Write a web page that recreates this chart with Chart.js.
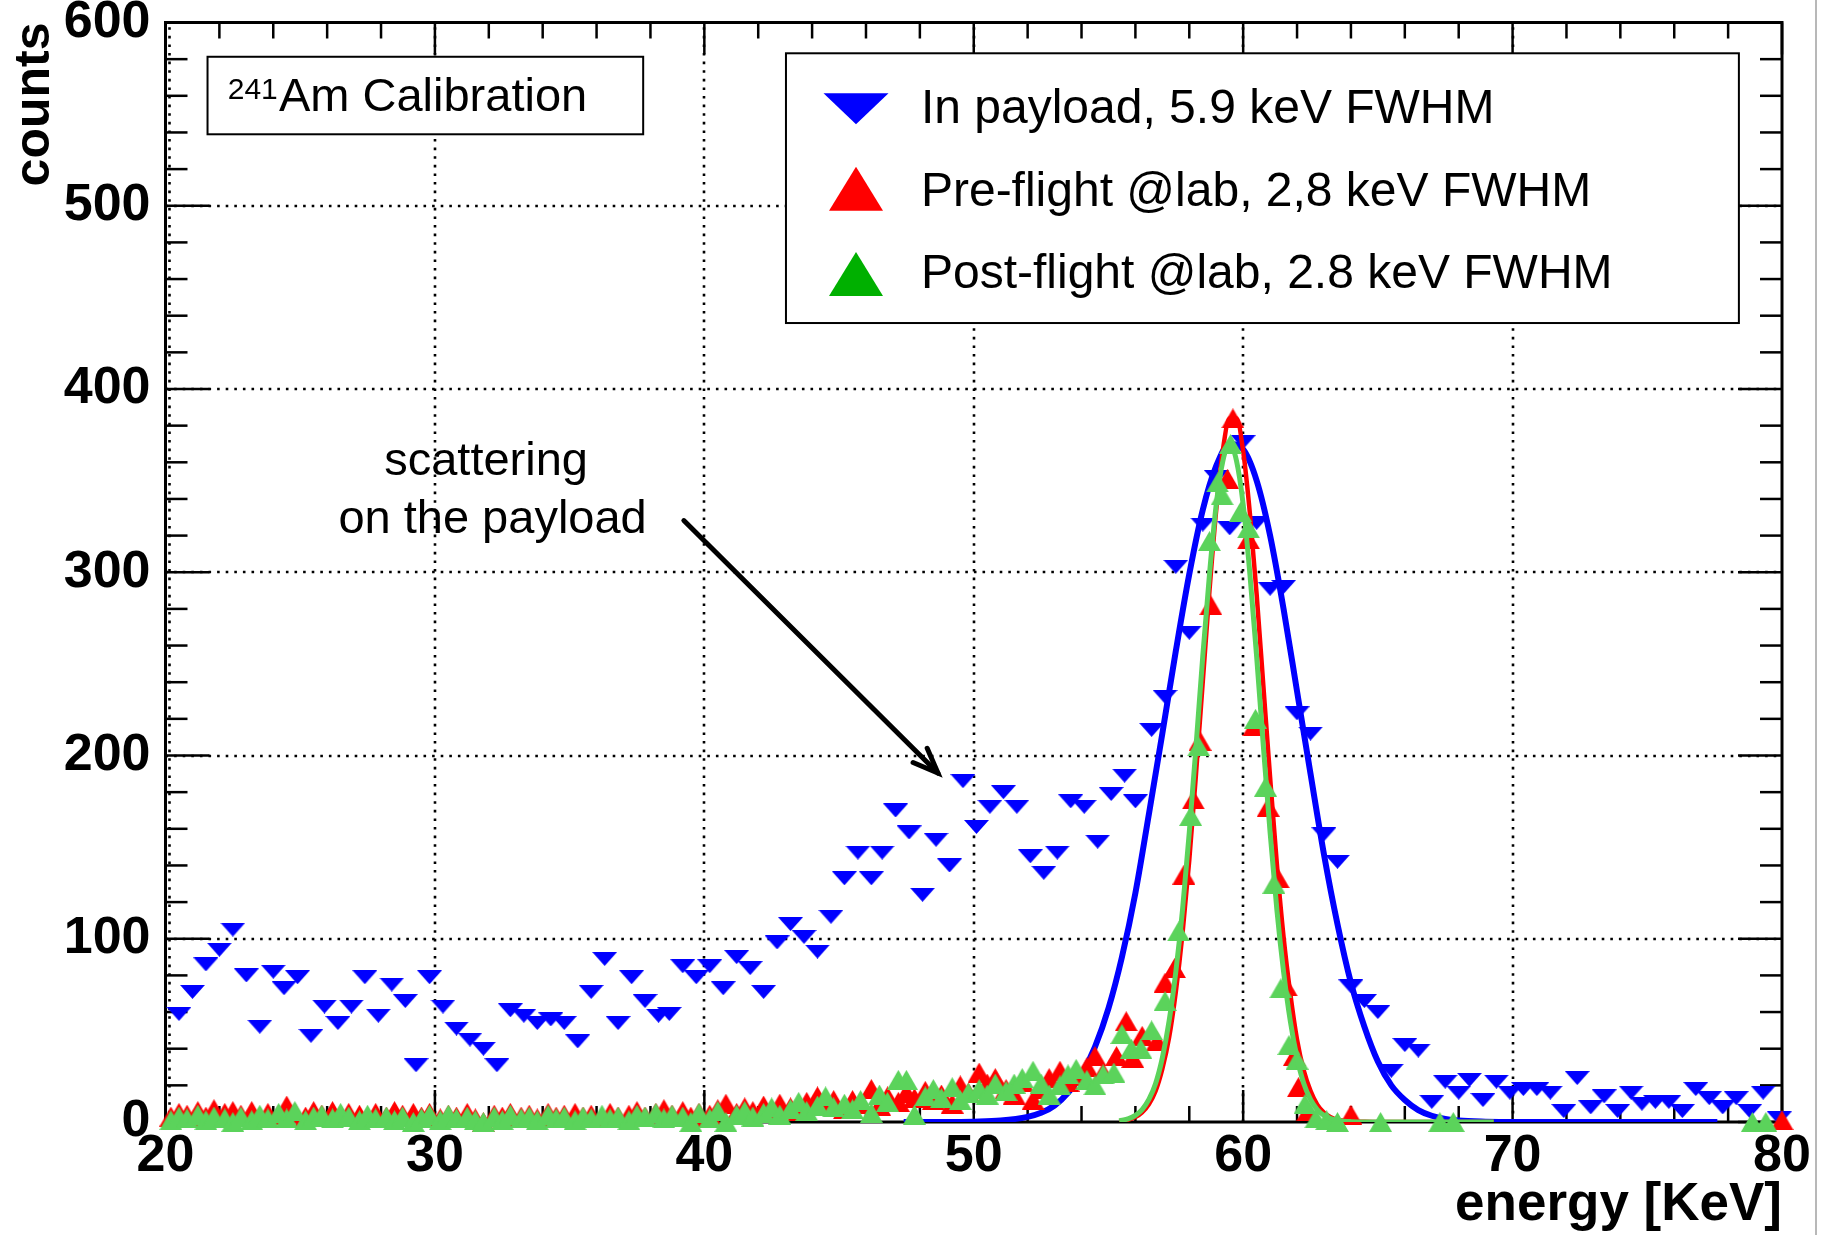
<!DOCTYPE html>
<html><head><meta charset="utf-8">
<script src="https://cdn.jsdelivr.net/npm/chart.js@4.4.1/dist/chart.umd.min.js"></script>
<style>html,body{margin:0;padding:0;background:#fff;overflow:hidden}canvas{display:block}</style>
</head><body>
<canvas id="c" width="1824" height="1235"></canvas>
<script>
// ---------- data ----------
const xTicks = [20, 30, 40, 50, 60, 70, 80];
const yTicks = [0, 100, 200, 300, 400, 500, 600];
const xTitle = 'energy [KeV]';
const yTitle = 'counts';
const seriesNames = ['In payload, 5.9 keV FWHM', 'Pre-flight @lab, 2,8 keV FWHM', 'Post-flight @lab, 2.8 keV FWHM'];

// In payload (blue, downward triangles)
const blueE = [20.5,21.0,21.5,22.0,22.5,23.0,23.5,24.0,24.4,24.9, 25.4,25.9,26.4,26.9,27.4,27.9,28.4,28.9,29.3,29.8,
  30.3,30.8,31.3,31.8,32.3,32.8,33.3,33.8,34.3,34.8, 35.3,35.8,36.3,36.8,37.3,37.8,38.3,38.7,39.2,39.7,
  40.2,40.7,41.2,41.7,42.2,42.7,43.2,43.7,44.2,44.7, 45.2,45.7,46.2,46.6,47.1,47.6,48.1,48.6,49.1,49.6,
  50.1,50.6,51.1,51.6,52.1,52.6,53.1,53.6,54.1,54.6, 55.1,55.6,56.0,56.6,57.1,57.5,58.0,58.5,59.0,59.5,
  60.0,60.5,61.0,61.5,62.0,62.5,63.0,63.5,64.0,64.5, 65.0,65.5,66.0,66.5,67.0,67.5,68.0,68.4,68.9,69.4,
  69.9,70.4,70.9,71.4,71.9,72.4,72.9,73.4,73.9,74.4, 74.8,75.3,75.8,76.3,76.8,77.3,77.8,78.3,78.8,79.3, 79.9];
const blueC = [59,71,86,94,105,80,52,82,73,79, 47,63,54,63,79,58,75,66,31,79,
  63,51,45,40,31,61,58,54,56,54, 44,71,89,54,79,66,58,59,85,79,
  85,73,90,84,71,98,108,101,93,112, 133,147,133,147,170,158,124,154,140,186,
  161,172,180,172,145,136,147,175,172,153, 179,189,175,214,232,303,267,326,352,324,
  371,327,291,292,223,212,157,142,74,66, 60,28,42,39,11,22,16,23,12,22,
  16,18,18,16,6,24,8,14,6,16, 10,11,11,6,18,13,8,13,6,16, 2];

// lab measurements: low-energy bins shared by pre- and post-flight
const labBaseE = [20.2,20.5,20.8,21.2,21.5,21.8,22.2,22.5,22.8,23.2,23.5,23.8,24.2,24.5,24.8,25.2,25.5,25.8,26.2,26.5,26.8,27.2,27.5,27.8,28.2,28.5,28.8,29.2,29.5,29.8,
  30.2,30.5,30.8,31.2,31.5,31.8,32.2,32.5,32.8,33.2,33.5,33.8,34.2,34.5,34.8,35.2,35.5,35.8,36.2,36.5,36.8,37.2,37.5,37.8,38.2,38.5,38.8,39.2,39.5,39.8,
  40.2,40.5,40.8,41.2,41.5,41.8,42.2,42.5,42.8,43.2,43.5,43.8,44.2,44.5,44.8,45.2,45.5,45.8,46.2,46.5,46.8,47.2,47.5,47.8,48.2,48.5,48.8,49.2,49.5,49.8,
  50.2,50.5,50.8,51.2,51.5,51.8,52.2,52.5,52.8,53.2,53.5,53.8,54.2,54.5,54.8];

// Pre-flight (red)
const redBaseC = [3,5,4,6,3,7,5,6,4,6, 3,5,4,9,5,3,6,4,6,3, 5,4,2,5,3,6,4,5,3,5,
  2,4,3,5,2,0,4,3,5,3, 4,2,5,3,4,5,3,4,2,5, 3,4,6,3,5,7,4,6,3,5,
  4,7,10,5,8,6,9,7,10,8, 6,11,14,9,12,7,12,10,18,9, 14,11,16,13,17,12,15,10,20,16,
  27,21,24,18,15,22,12,18,24,28, 22,25,30,36,27];
const redPeakE = [55.3,55.66,55.9,56.25,56.8,57.1,57.45,57.8,58.15,58.4,58.8,59.42,59.62,60.2,60.4,60.93,61.3,61.6,61.9,62.05,62.4,64.0,80.0];
const redPeakC = [36,55,35,47,44,76,84,135,176,208,282,351,384,318,216,172,133,74,36,19,6,4,1];

// Post-flight (green)
const greenBaseC = [1,3,2,4,1,3,2,0,3,1, 4,2,5,2,6,1,3,4,2,5, 3,1,4,2,3,1,3,0,2,4,
  1,4,2,3,1,0,3,1,4,2, 3,1,4,2,3,1,3,2,4,2, 3,1,4,3,5,2,4,3,0,5,
  2,6,0,4,6,3,5,8,4,7, 11,6,9,14,8,10,7,12,5,15, 11,23,23,4,14,18,13,19,12,16,
  18,15,21,17,21,24,28,21,15,20, 26,29,23,20,26];
const greenPeakE = [55.2,55.5,55.85,56.2,56.6,57.1,57.6,58.05,58.35,58.75,59.05,59.22,59.53,59.9,60.2,60.46,60.83,61.14,61.4,61.7,62.0,62.3,62.7,63.1,63.5,65.1,67.3,67.8,78.9,79.4];
const greenPeakC = [27,48,40,40,50,66,104,167,205,317,349,342,370,333,324,220,183,130,73,42,34,10,2,1,0,0,0,0,0,0];

// fitted curves
const blueFitE = [47.4,49,50,51,52,52.5,53,53.5,54,54.5,55,55.5,56,56.5,57,57.5,58,58.5,59,59.5,60,60.5,61,61.5,62,62.5,63,63.5,64,64.5,65,65.5,66,66.5,67,67.5,68,69,70,72,75,77.6];
const blueFitC = [0,0,0.2,0.8,2.8,5,9,16,26,41,62,90,125,168,212,257,299,334,358,370,367,350,320,280,235,190,146,108,76,52,33,20,12,6.5,3.4,1.7,0.8,0.2,0,0,0,0];
const labFitE = [55.4,55.75,56,56.25,56.5,56.75,57,57.25,57.5,57.75,58,58.25,58.5,58.75,59,59.25,59.5,59.75,60,60.25,60.5,60.75,61,61.25,61.5,61.75,62,62.25,62.5,62.75,63,63.25,63.5,64,64.5,65,67,69.3];
const redFitC = [0.4,1.3,2.7,5.3,9.7,17,29,46,71,103,143,190,240,290,334,367,384,384,366,332,288,238,188,141,101,70,45,28,17,9.5,5.1,2.6,1.3,0.3,0.1,0,0,0];
const greenFitC = [0.6,1.8,3.6,6.8,12.3,21,35,55,82,116,158,205,254,299,337,361,370,361,337,299,254,205,158,116,82,55,35,21,12.3,6.8,3.6,1.8,0.9,0.2,0,0,0,0];

// ---------- styles ----------
const FONT = '"Liberation Sans", Arial, Helvetica, sans-serif';
const BLUE = '#0000ff', RED = '#ff0000', GREEN = '#5bd35b', GREEN_LEG = '#00b000';

function tri(w, h, color, down) {
  const c = document.createElement('canvas'); c.width = w; c.height = h;
  const g = c.getContext('2d'); g.fillStyle = color; g.beginPath();
  if (down) { g.moveTo(0, 0); g.lineTo(w, 0); g.lineTo(w / 2, h); }
  else { g.moveTo(w / 2, 0); g.lineTo(w, h); g.lineTo(0, h); }
  g.closePath(); g.fill(); return c;
}
const blueMk = tri(25, 14, BLUE, true);
const redMk = tri(23, 20, RED, false);
const greenMk = tri(23, 20, GREEN, false);

const pts = (E, C) => E.map((x, i) => ({ x, y: C[i] }));

// ---------- frame, inward ticks, dotted grid ----------
const framePlugin = {
  id: 'rootFrame',
  beforeDatasetsDraw(chart) {
    const { ctx, chartArea: a, scales: { x, y } } = chart;
    const line = (x1, y1, x2, y2) => { ctx.beginPath(); ctx.moveTo(x1, y1); ctx.lineTo(x2, y2); ctx.stroke(); };
    ctx.save();
    ctx.strokeStyle = '#000';
    ctx.lineWidth = 2.6; ctx.setLineDash([2.6, 6]);
    xTicks.slice(1, -1).forEach(v => { const p = Math.round(x.getPixelForValue(v)); line(p, a.bottom, p, a.top); });
    line(a.left + 4, a.bottom, a.left + 4, a.top);
    yTicks.slice(1, -1).forEach(v => { const p = Math.round(y.getPixelForValue(v)); line(a.left, p, a.right, p); });
    ctx.setLineDash([]);
    ctx.lineWidth = 2.5;
    const xMin = xTicks[0], xMax = xTicks[xTicks.length - 1];
    for (let v = xMin; v <= xMax; v += 2) {
      const p = x.getPixelForValue(v); const L = (v % 10 === 0) ? 32 : 16;
      line(p, a.bottom, p, a.bottom - L); line(p, a.top, p, a.top + L);
    }
    const yMax = yTicks[yTicks.length - 1];
    for (let v = 0; v <= yMax; v += 20) {
      const p = y.getPixelForValue(v); const L = (v % 100 === 0) ? 44 : 22;
      line(a.left, p, a.left + L, p); line(a.right, p, a.right - L, p);
    }
    ctx.lineWidth = 3;
    ctx.strokeRect(a.left, a.top, a.right - a.left, a.bottom - a.top);
    // faint border at the right edge of the picture
    ctx.strokeStyle = '#b8b8b8'; ctx.lineWidth = 2;
    line(chart.width - 8, 0, chart.width - 8, chart.height);
    ctx.restore();
  }
};

// ---------- legend, labels, arrow ----------
const annotPlugin = {
  id: 'annot',
  afterDatasetsDraw(chart) {
    const { ctx, scales: { x, y } } = chart;
    const X = v => x.getPixelForValue(v), Y = v => y.getPixelForValue(v);
    ctx.save();
    ctx.textBaseline = 'alphabetic';
    // isotope label box
    let l = X(21.56), r = X(37.73), t = Y(581.3), b = Y(539.0);
    ctx.fillStyle = '#fff'; ctx.fillRect(l, t, r - l, b - t);
    ctx.strokeStyle = '#000'; ctx.lineWidth = 2; ctx.strokeRect(l, t, r - l, b - t);
    ctx.fillStyle = '#000'; ctx.textAlign = 'left';
    ctx.font = '30px ' + FONT; ctx.fillText('241', X(22.31), Y(558.3));
    ctx.font = '47px ' + FONT; ctx.fillText('Am Calibration', X(24.21), Y(551.5));

    // legend box
    l = X(43.03); r = X(78.40); t = Y(583.2); b = Y(436.0);
    ctx.fillStyle = '#fff'; ctx.fillRect(l, t, r - l, b - t);
    ctx.strokeStyle = '#000'; ctx.lineWidth = 2; ctx.strokeRect(l, t, r - l, b - t);
    const mx = X(45.63);
    const drawTri = (cx, cy, w, h, color, down) => {
      ctx.fillStyle = color; ctx.beginPath();
      if (down) { ctx.moveTo(cx - w / 2, cy - h / 2); ctx.lineTo(cx + w / 2, cy - h / 2); ctx.lineTo(cx, cy + h / 2); }
      else { ctx.moveTo(cx, cy - h / 2); ctx.lineTo(cx + w / 2, cy + h / 2); ctx.lineTo(cx - w / 2, cy + h / 2); }
      ctx.closePath(); ctx.fill();
    };
    drawTri(mx, Y(553.0), 65, 31, BLUE, true);
    drawTri(mx, Y(509.3), 54, 44, RED, false);
    drawTri(mx, Y(462.8), 54, 44, GREEN_LEG, false);
    ctx.fillStyle = '#000'; ctx.font = '48px ' + FONT; ctx.textAlign = 'left';
    ctx.fillText(seriesNames[0], X(48.04), Y(545.0));
    ctx.fillText(seriesNames[1], X(48.04), Y(499.9));
    ctx.fillText(seriesNames[2], X(48.04), Y(455.0));

    // annotation text
    ctx.font = '47px ' + FONT; ctx.textAlign = 'center';
    ctx.fillText('scattering', X(31.90), Y(353.2));
    ctx.fillText('on the payload', X(32.14), Y(321.4));
    // arrow
    const x0 = X(39.24), y0 = Y(328.2), x1 = X(48.67), y1 = Y(190.4);
    ctx.strokeStyle = '#000'; ctx.lineWidth = 5; ctx.lineCap = 'round';
    ctx.beginPath(); ctx.moveTo(x0, y0); ctx.lineTo(x1, y1); ctx.stroke();
    const ang = Math.atan2(y1 - y0, x1 - x0) + Math.PI, hl = 27, spread = 0.38;
    ctx.beginPath();
    ctx.moveTo(x1 + hl * Math.cos(ang - spread), y1 + hl * Math.sin(ang - spread));
    ctx.lineTo(x1, y1);
    ctx.lineTo(x1 + hl * Math.cos(ang + spread), y1 + hl * Math.sin(ang + spread));
    ctx.stroke();
    ctx.restore();
  }
};

const tickFont = { family: FONT, size: 52, weight: 'bold', lineHeight: 1.2 };

new Chart(document.getElementById('c'), {
  type: 'scatter',
  data: {
    datasets: [
      { label: 'Post-flight fit', data: pts(labFitE, greenFitC), showLine: true, borderColor: GREEN, borderWidth: 5,
        pointRadius: 0, cubicInterpolationMode: 'monotone', tension: 0.4, order: 0 },
      { label: seriesNames[2], data: pts(labBaseE.concat(greenPeakE), greenBaseC.concat(greenPeakC)),
        pointStyle: greenMk, pointRadius: 10, showLine: false, clip: false, order: 1 },
      { label: 'Pre-flight fit', data: pts(labFitE, redFitC), showLine: true, borderColor: RED, borderWidth: 4.5,
        pointRadius: 0, cubicInterpolationMode: 'monotone', tension: 0.4, order: 2 },
      { label: seriesNames[1], data: pts(labBaseE.concat(redPeakE), redBaseC.concat(redPeakC)),
        pointStyle: redMk, pointRadius: 10, showLine: false, clip: false, order: 3 },
      { label: 'In payload fit', data: pts(blueFitE, blueFitC), showLine: true, borderColor: BLUE, borderWidth: 6,
        pointRadius: 0, cubicInterpolationMode: 'monotone', tension: 0.4, order: 4 },
      { label: seriesNames[0], data: pts(blueE, blueC), pointStyle: blueMk, pointRadius: 10,
        showLine: false, clip: false, order: 5 }
    ]
  },
  options: {
    responsive: false, devicePixelRatio: 1, animation: false, events: [],
    layout: { padding: { left: 0, top: 22.5, right: 42, bottom: 0 } },
    plugins: { legend: { display: false }, tooltip: { enabled: false } },
    scales: {
      x: {
        type: 'linear', position: 'bottom', min: xTicks[0], max: xTicks[xTicks.length - 1],
        afterBuildTicks: s => { s.ticks = xTicks.map(v => ({ value: v })); },
        afterFit: s => { s.height = 113; s.paddingLeft = 0; s.paddingRight = 0; },
        ticks: { autoSkip: false, maxRotation: 0, padding: 3, color: '#000', font: tickFont, callback: v => String(v) },
        grid: { display: false, drawTicks: false }, border: { display: false },
        title: { display: true, text: xTitle, align: 'end', color: '#000', padding: { top: 0, bottom: -2 },
          font: { family: FONT, size: 53, weight: 'bold', lineHeight: 1.2 } }
      },
      y: {
        type: 'linear', position: 'left', min: yTicks[0], max: yTicks[yTicks.length - 1],
        afterBuildTicks: s => { s.ticks = yTicks.map(v => ({ value: v })); },
        afterFit: s => { s.width = 165.5; s.paddingTop = 0; s.paddingBottom = 0; },
        ticks: { autoSkip: false, padding: 15, color: '#000', font: tickFont, callback: v => String(v) },
        grid: { display: false, drawTicks: false }, border: { display: false },
        title: { display: true, text: yTitle, align: 'end', color: '#000', padding: { top: 5, bottom: 0 },
          font: { family: FONT, size: 50, weight: 'bold', lineHeight: 1.2 } }
      }
    }
  },
  plugins: [framePlugin, annotPlugin]
});
</script>
</body></html>
